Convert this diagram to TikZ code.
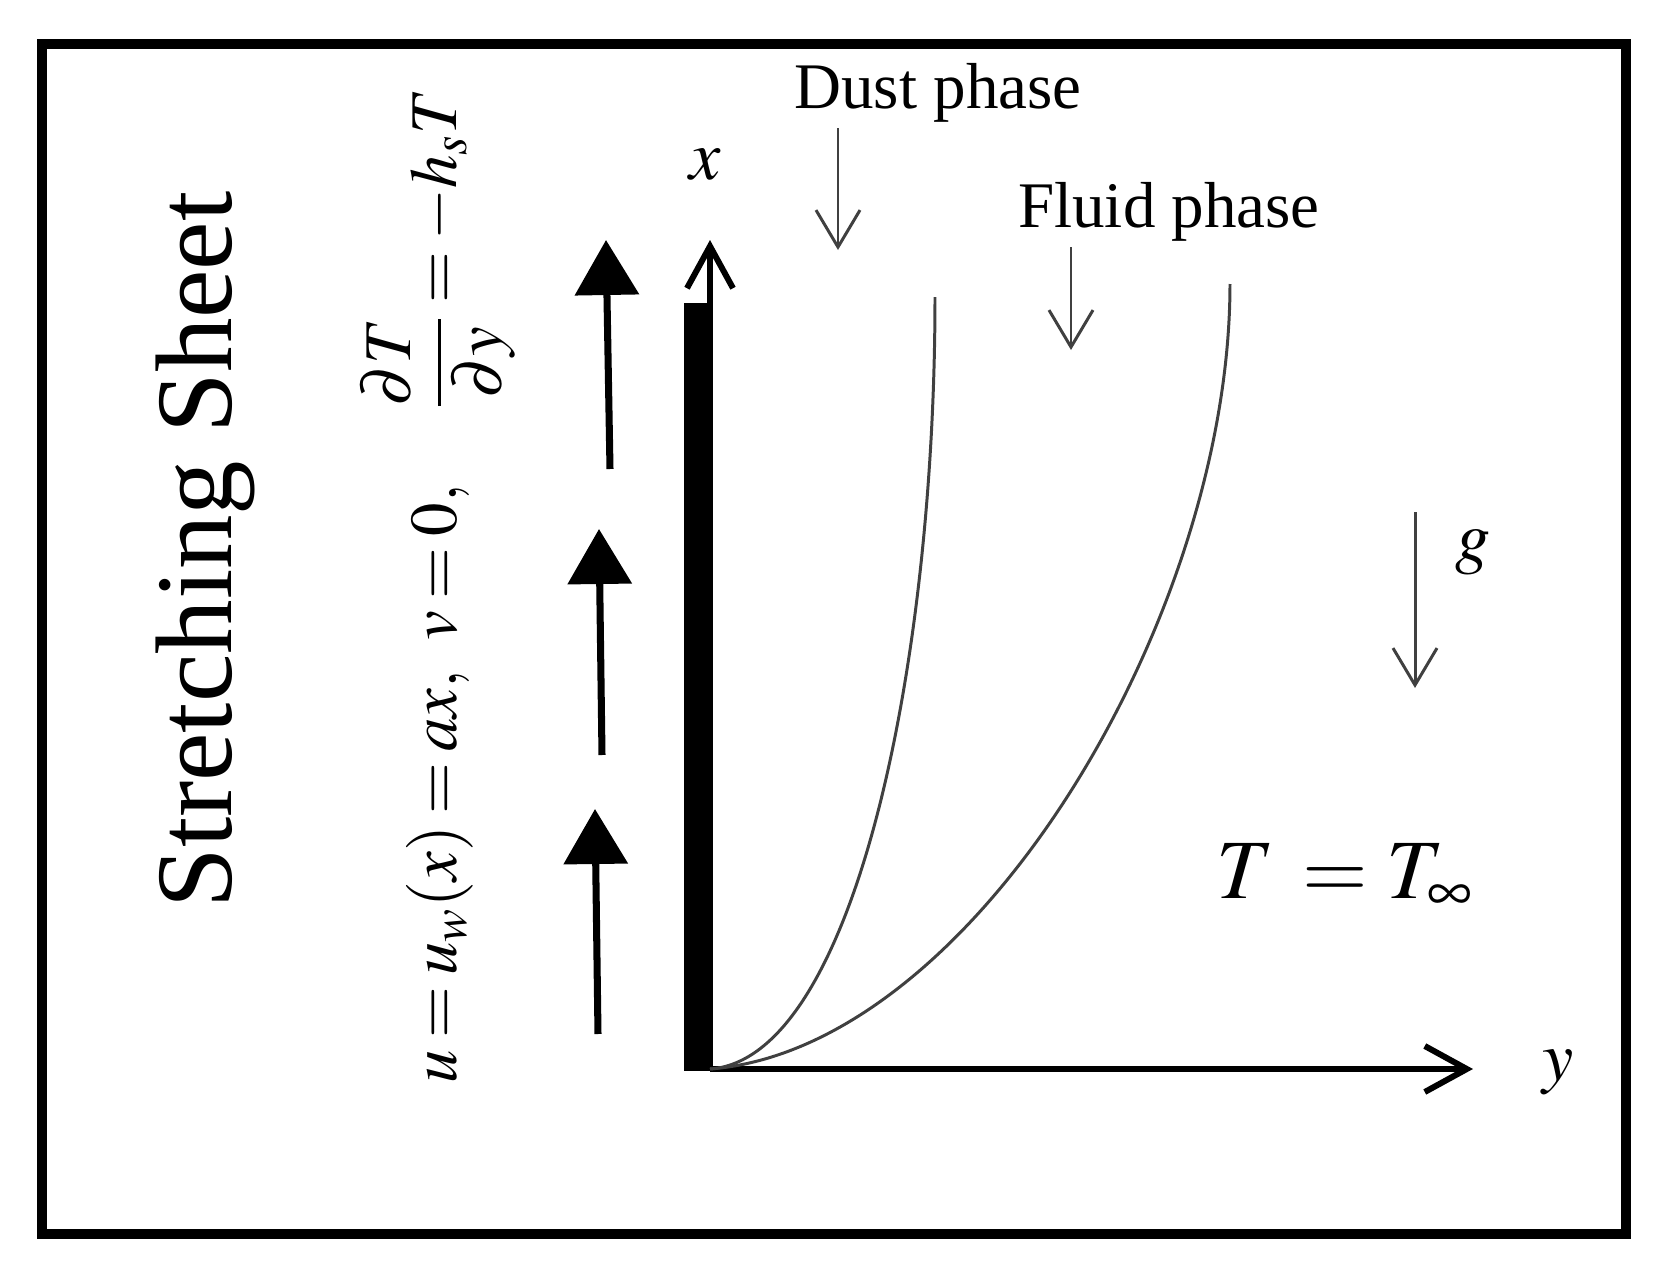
\documentclass[tikz,border=0pt]{standalone}
\usepackage{mathptmx}
\usepackage{fontspec}
\setmainfont{Liberation Serif}
\usetikzlibrary{arrows.meta}

\begin{document}
\begin{tikzpicture}[x=0.1mm,y=-0.1mm,
	thinarrow/.style={black!75,line width=0.85pt,-{Straight Barb[length=3.7mm,width=4.4mm]}},
	axisarrow/.style={line width=1.7pt,-{Straight Barb[length=4.2mm,width=4.6mm]}},
	bigarrow/.style={line width=2pt,-{Triangle[length=5.5mm,width=6.3mm]}},
	curve/.style={black!75,line width=0.85pt},
	phase/.style={anchor=base,font=\fontsize{18.5}{20}\selectfont},
	mathlab/.style={font=\fontsize{20}{22}\selectfont}]
\useasboundingbox (0,0) rectangle (1663,1266);
%\draw [help lines,black!20!white] (0,0) grid (1663,1266);

\draw[line width=3pt] (42,44) rectangle (1626,1234);

% sheet and axes
\fill (684,303) rectangle (711,1071);
\coordinate (O) at (710,1069);
\coordinate (xend) at (710,240);
\coordinate (yend) at (1473,1069);
\draw[axisarrow] (O) -- (xend);
\draw[axisarrow] (O) -- (yend);
\node[mathlab] (xlab) at (705,165) {$x$};
\node[mathlab] (ylab) at (1558,1072) {$y$};

% boundary layers
\draw[curve] (O) .. controls (853,1059) and (935,669) .. (935,297);
\draw[curve] (O) .. controls (973,1049) and (1230,619) .. (1230,284);

\node[phase] (dust) at (938,108) {Dust phase};
\node[phase] (fluid) at (1169,228) {Fluid phase};
\coordinate (dusttop) at (838,128);
\coordinate (dusttip) at (838,250);
\coordinate (fluidtop) at (1071,247);
\coordinate (fluidtip) at (1071,350);
\draw[thinarrow] (dusttop) -- (dusttip);
\draw[thinarrow] (fluidtop) -- (fluidtip);

% gravity
\coordinate (gtop) at (1415,512);
\coordinate (gtip) at (1415,688);
\draw[thinarrow] (gtop) -- (gtip);
\node[mathlab] (glab) at (1473,552) {$g$};

\node[anchor=base,font=\fontsize{24}{26}\selectfont] (Tinf) at (1345,898) {$T\,=T_{\infty}$};

% stretching velocity
\foreach \xa/\ya/\xb/\yb in {598/1034/595/809, 602/755/599/529, 610/469/606/240}{
	\draw[bigarrow] (\xa,\ya) -- (\xb,\yb);}

\node[rotate=90,anchor=base,font=\fontsize{31}{31}\selectfont] (title) at (231,550) {Stretching Sheet};
\node[rotate=90,anchor=base,font=\fontsize{19}{19}\selectfont] (bc) at (456,586)
	{$\thickmuskip=3mu u=u_w(x)=ax,\;\;v=0,\quad \displaystyle\frac{\partial T}{\partial y}=-h_sT$};

\end{tikzpicture}
\end{document}
